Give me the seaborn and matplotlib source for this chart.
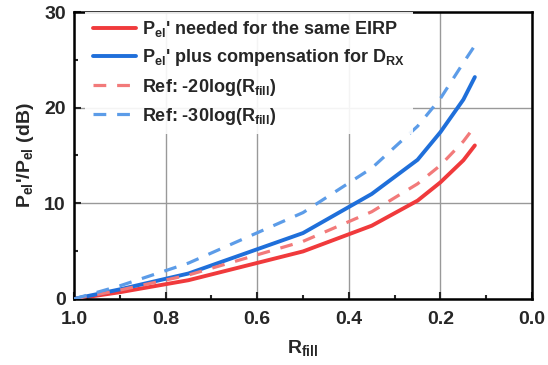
import numpy as np
import pandas as pd
import matplotlib
matplotlib.use("Agg")
import matplotlib.pyplot as plt
from matplotlib.ticker import MultipleLocator
import seaborn as sns

r_fill = [1.0, 0.9, 0.75, 0.5, 0.35, 0.25, 0.2, 0.15, 0.125]
p_same_eirp = [0.0, 0.7, 1.96, 4.97, 7.66, 10.28, 12.2, 14.5, 16.05]
p_comp_drx = [0.0, 1.0, 2.66, 6.89, 10.98, 14.55, 17.45, 20.85, 23.2]
ref_20log = [0.0, 0.92, 2.5, 6.02, 9.12, 12.04, 13.98, 16.48, 18.06]
ref_30log = [0.0, 1.37, 3.75, 9.03, 13.68, 18.06, 20.97, 24.7, 26.5]

labels = [r"P$_{\mathbf{el}}$' needed for the same EIRP",
          r"P$_{\mathbf{el}}$' plus compensation for D$_{\mathbf{RX}}$",
          r"Ref: -20log(R$_{\mathbf{fill}}$)",
          r"Ref: -30log(R$_{\mathbf{fill}}$)"]
colors = ["#F03A3C", "#1F6FDA", "#F27A7A", "#5C9CE8"]
series = [p_same_eirp, p_comp_drx, ref_20log, ref_30log]

sns.set_theme(style="white")
plt.rcParams['font.family'] = ['Liberation Sans', 'DejaVu Sans']
plt.rcParams['font.weight'] = 'bold'
plt.rcParams['mathtext.fontset'] = 'custom'
plt.rcParams['mathtext.rm'] = 'Liberation Sans:bold'
plt.rcParams['mathtext.bf'] = 'Liberation Sans:bold'
plt.rcParams['mathtext.it'] = 'Liberation Sans:bold'
plt.rcParams['mathtext.default'] = 'bf'

fig = plt.figure(figsize=(5.48, 3.65), dpi=100)
ax = fig.add_axes([0.135, 0.181, 0.836, 0.786])

df = pd.DataFrame({"R": r_fill * 4,
                   "val": sum(series, []),
                   "series": sum([[l] * len(r_fill) for l in labels], [])})

for i, (lab, col) in enumerate(zip(labels, colors)):
    sub = df[df["series"] == lab]
    if i < 2:
        sns.lineplot(data=sub, x="R", y="val", ax=ax, color=col, lw=2.8,
                     label=lab, sort=False, estimator=None, zorder=2)
    else:
        sns.lineplot(data=sub, x="R", y="val", ax=ax, color=col, lw=2.3,
                     label=lab, sort=False, estimator=None, zorder=3)
        ax.lines[-1].set_dashes([4, 3.4])

ax.set_xlim(1.0, 0.0)
ax.set_ylim(0, 30)
ax.xaxis.set_major_locator(MultipleLocator(0.2))
ax.xaxis.set_minor_locator(MultipleLocator(0.1))
ax.yaxis.set_major_locator(MultipleLocator(10))
ax.yaxis.set_minor_locator(MultipleLocator(5))
ax.set_xticklabels([f"{v:.1f}" for v in ax.get_xticks()])
ax.tick_params(which='major', direction='in', length=5, width=1.5,
               bottom=True, left=True, top=False, right=False, labelsize=14, pad=6)
ax.tick_params(axis='x', which='major', pad=9)
ax.tick_params(which='minor', direction='in', length=3, width=1.5,
               bottom=True, left=True, top=False, right=False)
for lbl in ax.get_xticklabels() + ax.get_yticklabels():
    lbl.set_fontweight('bold')
ax.grid(True, which='major', color='#999999', lw=1.0)
ax.set_axisbelow(True)
for s in ax.spines.values():
    s.set_visible(True)
    s.set_color('black')
    s.set_linewidth(1.8)

ax.set_xlabel(r"R$_{\mathbf{fill}}$", fontsize=14, fontweight='bold', labelpad=7)
ax.set_ylabel(r"P$_{\mathbf{el}}$'/P$_{\mathbf{el}}$ (dB)", fontsize=14, fontweight='bold', labelpad=6)

leg = ax.legend(loc='upper left', bbox_to_anchor=(0.025, 1.0), frameon=True,
                framealpha=0.9, edgecolor='none', fancybox=False,
                prop={'weight': 'bold', 'size': 13}, handlelength=2.4,
                handletextpad=0.35, labelspacing=0.45, borderaxespad=0.0)
leg.get_frame().set_linewidth(0)

fig.savefig("out.png", dpi=100)
